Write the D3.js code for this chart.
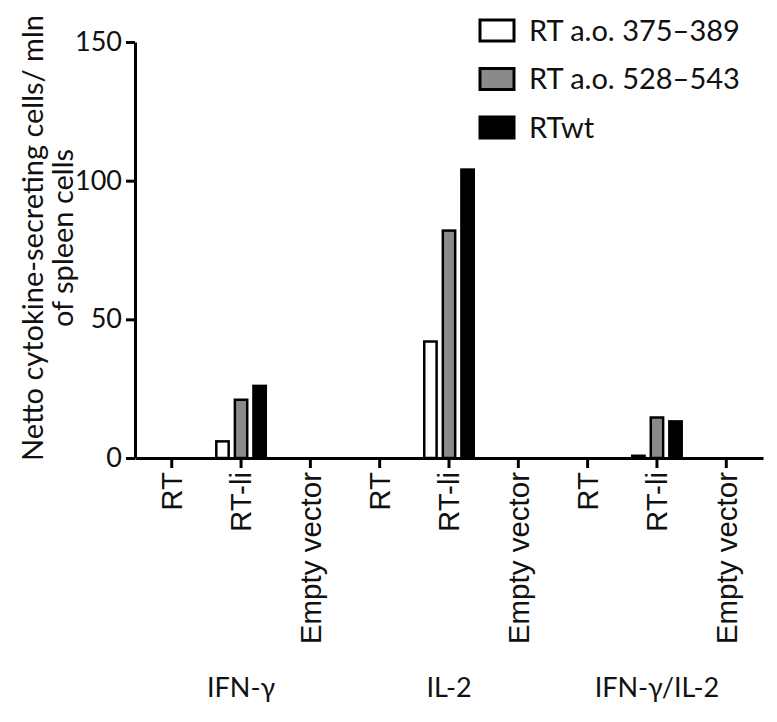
<!DOCTYPE html>
<html>
<head>
<meta charset="utf-8">
<script src="https://cdn.jsdelivr.net/npm/d3@7"></script>
<style>
  body { margin: 0; background: #fff; }
  svg { display: block; }
</style>
</head>
<body>
<div id="chart"></div>
<script>
// groups along the x axis and the conditions inside each
const groups = ["IFN-γ", "IL-2", "IFN-γ/IL-2"];
const conditions = ["RT", "RT-li", "Empty vector"];
const series = ["RT a.o. 375–389", "RT a.o. 528–543", "RTwt"];

// values in order: IFN-γ (RT, RT-li, Empty), IL-2 (...), IFN-γ/IL-2 (...)
const ao375 = [0, 6, 0, 0, 42, 0, 0, 0.8, 0];
const ao528 = [0, 21, 0, 0, 82, 0, 0, 14.6, 0];
const rtwt = [0, 26, 0, 0, 104, 0, 0, 13.2, 0];
const yTicks = [0, 50, 100, 150];

const seriesValues = [ao375, ao528, rtwt];
const fills = ["#ffffff", "#8a8a8a", "#000000"];

const width = 777, height = 722;
const svg = d3.select("#chart").append("svg")
    .attr("width", width)
    .attr("height", height);

const keys = [];
groups.forEach(g => conditions.forEach(c => keys.push(g + "|" + c)));

const x = d3.scaleBand().domain(keys).range([135, 763]).paddingOuter(0.03);
const xs = d3.scaleBand().domain(series).range([-26, 26]).paddingInner(0.2);
const y = d3.scaleLinear().domain([0, 150]).range([458, 42]);

const sw = 2.5;

// bars
const bars = [];
seriesValues.forEach((vals, si) => {
    vals.forEach((v, i) => bars.push({ key: keys[i], s: series[si], si: si, v: v }));
});

svg.append("g")
    .selectAll("rect")
    .data(bars.filter(d => d.v > 0))
    .enter()
    .append("rect")
    .attr("x", d => x(d.key) + x.bandwidth() / 2 + xs(d.s) + sw / 2)
    .attr("width", xs.bandwidth() - sw)
    .attr("y", d => y(d.v))
    .attr("height", d => y(0) - y(d.v))
    .attr("fill", d => fills[d.si])
    .attr("stroke", "#000")
    .attr("stroke-width", sw);

// y axis
const yAxis = svg.append("g")
    .attr("transform", "translate(135,0)")
    .call(d3.axisLeft(y).tickValues(yTicks).tickSize(9).tickSizeOuter(0).tickPadding(4));
yAxis.select(".domain").attr("stroke-width", 3);
yAxis.selectAll(".tick line").attr("stroke-width", 3);
yAxis.selectAll(".tick text")
    .attr("font-family", "Lato, sans-serif")
    .attr("font-size", 27)
    .attr("fill", "#111");

// x axis
const xAxis = svg.append("g")
    .attr("transform", "translate(0,458)")
    .call(d3.axisBottom(x).tickSize(10).tickSizeOuter(0).tickFormat(d => d.split("|")[1]));
xAxis.select(".domain").attr("stroke-width", 3);
xAxis.selectAll(".tick line").attr("stroke-width", 3);
xAxis.selectAll(".tick text")
    .attr("font-family", "'Liberation Sans', Arial, sans-serif")
    .attr("font-size", 29.5)
    .attr("fill", "#111")
    .attr("text-anchor", "end")
    .attr("dy", "0.35em")
    .attr("transform", "translate(0,14) rotate(-90)")
    .attr("x", 0)
    .attr("y", 0);

// group labels
svg.append("g")
    .selectAll("text")
    .data(groups)
    .enter()
    .append("text")
    .attr("x", g => x(g + "|RT-li") + x.bandwidth() / 2)
    .attr("y", 697)
    .attr("text-anchor", "middle")
    .attr("font-family", "Lato, sans-serif")
    .attr("font-size", 27)
    .attr("fill", "#111")
    .text(d => d);

// y title
const title = svg.append("text")
    .attr("transform", "translate(43,238) rotate(-90)")
    .attr("text-anchor", "middle")
    .attr("font-family", "Lato, sans-serif")
    .attr("font-size", 29)
    .attr("fill", "#111");
title.append("tspan").attr("x", 0).attr("y", 0).text("Netto cytokine-secreting cells/ mln");
title.append("tspan").attr("x", 0).attr("y", 30).text("of spleen cells");

// legend
const legend = svg.append("g")
    .selectAll("g")
    .data(series)
    .enter()
    .append("g")
    .attr("transform", (d, i) => `translate(480,${20 + i * 48.5})`);
legend.append("rect")
    .attr("width", 34)
    .attr("height", 21)
    .attr("fill", (d, i) => fills[i])
    .attr("stroke", "#000")
    .attr("stroke-width", 3);
legend.append("text")
    .attr("x", 49)
    .attr("y", 10.5)
    .attr("dy", "0.36em")
    .attr("font-family", "Lato, sans-serif")
    .attr("font-size", 29)
    .attr("fill", "#111")
    .text(d => d);
</script>
</body>
</html>
